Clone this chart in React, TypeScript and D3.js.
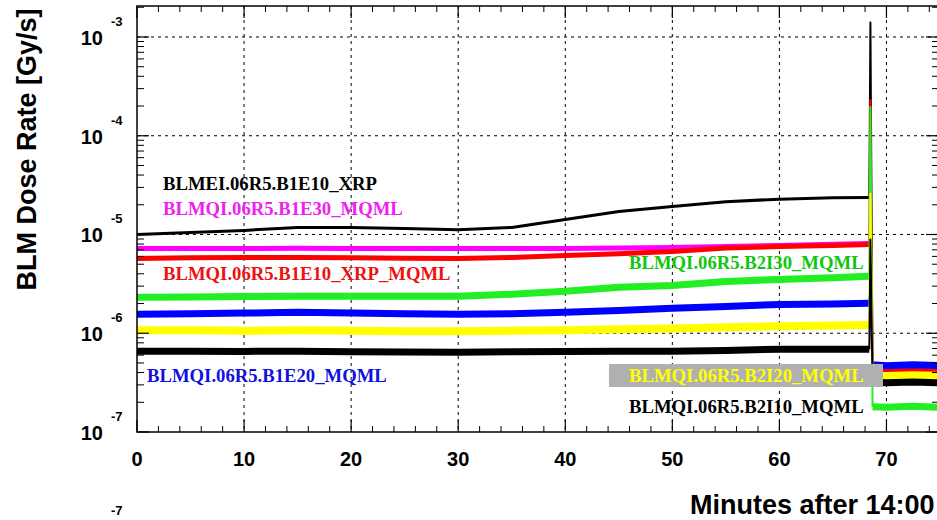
import React from 'react'
import * as d3 from 'd3'

// time axis, minutes after 14:00
const minutes = [0, 5, 10, 15, 20, 25, 30, 35, 40, 45, 50, 55, 60, 65, 68.4, 68.5, 68.7, 70, 72.5, 75]

// dose rates in Gy/s, one value per minute entry
const xrpB1E10 = [1.0e-5, 1.05e-5, 1.1e-5, 1.18e-5, 1.18e-5, 1.15e-5, 1.12e-5, 1.18e-5, 1.42e-5, 1.71e-5, 1.92e-5, 2.15e-5, 2.28e-5, 2.35e-5, 2.37e-5, 1.4e-3, 3.9e-7, 3.8e-7, 3.9e-7, 3.8e-7]
const mqmlB1E30 = [7.22e-6, 7.22e-6, 7.22e-6, 7.25e-6, 7.22e-6, 7.2e-6, 7.2e-6, 7.22e-6, 7.22e-6, 7.3e-6, 7.39e-6, 7.55e-6, 7.75e-6, 7.95e-6, 8.11e-6, 8.5e-6, 4.5e-7, 4.4e-7, 4.5e-7, 4.4e-7]
const xrpMqmlB1E10 = [5.73e-6, 5.8e-6, 5.86e-6, 5.86e-6, 5.8e-6, 5.75e-6, 5.73e-6, 5.86e-6, 6.14e-6, 6.4e-6, 6.73e-6, 7.3e-6, 7.56e-6, 7.75e-6, 7.92e-6, 2.3e-4, 4.2e-7, 4.1e-7, 4.2e-7, 4.1e-7]
const mqmlB1E20 = [1.56e-6, 1.58e-6, 1.6e-6, 1.63e-6, 1.6e-6, 1.58e-6, 1.56e-6, 1.58e-6, 1.63e-6, 1.7e-6, 1.79e-6, 1.87e-6, 1.96e-6, 1.98e-6, 2.01e-6, 2.8e-6, 4.8e-7, 4.7e-7, 4.8e-7, 4.7e-7]
const mqmlB2I30 = [2.31e-6, 2.33e-6, 2.35e-6, 2.37e-6, 2.37e-6, 2.37e-6, 2.37e-6, 2.48e-6, 2.66e-6, 2.92e-6, 3.05e-6, 3.35e-6, 3.51e-6, 3.65e-6, 3.77e-6, 1.95e-4, 1.8e-7, 1.78e-7, 1.82e-7, 1.78e-7]
const mqmlB2I20 = [1.07e-6, 1.07e-6, 1.06e-6, 1.07e-6, 1.06e-6, 1.05e-6, 1.05e-6, 1.06e-6, 1.07e-6, 1.1e-6, 1.12e-6, 1.15e-6, 1.18e-6, 1.2e-6, 1.21e-6, 2.6e-5, 3.7e-7, 3.7e-7, 3.75e-7, 3.7e-7]
const mqmlB2I10 = [6.58e-7, 6.58e-7, 6.55e-7, 6.58e-7, 6.5e-7, 6.45e-7, 6.43e-7, 6.5e-7, 6.55e-7, 6.58e-7, 6.58e-7, 6.7e-7, 6.89e-7, 6.89e-7, 6.89e-7, 8.9e-6, 3.2e-7, 3.15e-7, 3.2e-7, 3.15e-7]

const xTicks = [0, 10, 20, 30, 40, 50, 60, 70]
const decades = [-7, -6, -5, -4, -3]

interface Series {
    name: string
    values: number[]
    color: string
    labelColor: string
    width: number
}

const series: Series[] = [
    { name: 'BLMEI.06R5.B1E10_XRP', values: xrpB1E10, color: '#000000', labelColor: '#000000', width: 3 },
    { name: 'BLMQI.06R5.B1E30_MQML', values: mqmlB1E30, color: '#ff00ff', labelColor: '#ee22ee', width: 5 },
    { name: 'BLMQI.06R5.B1E10_XRP_MQML', values: xrpMqmlB1E10, color: '#ff0000', labelColor: '#ee1111', width: 5 },
    { name: 'BLMQI.06R5.B1E20_MQML', values: mqmlB1E20, color: '#0000ff', labelColor: '#1111dd', width: 7 },
    { name: 'BLMQI.06R5.B2I30_MQML', values: mqmlB2I30, color: '#22ee22', labelColor: '#11c611', width: 7 },
    { name: 'BLMQI.06R5.B2I20_MQML', values: mqmlB2I20, color: '#ffff00', labelColor: '#ffff00', width: 8 },
    { name: 'BLMQI.06R5.B2I10_MQML', values: mqmlB2I10, color: '#000000', labelColor: '#000000', width: 7 },
]

const W = 937
const H = 520
const left = 137
const right = 940
const top = 6
const bottom = 432

const App = () => {
    const x = d3.scaleLinear().domain([0, 75]).range([left, right])
    const y = d3.scaleLog().domain([1e-7, 2.06e-3]).range([bottom, top])

    const line = d3.line<[number, number]>()
        .x(d => x(d[0]))
        .y(d => y(d[1]))

    // split each trace: flat part, spike, post-dump part
    const segs = (vals: number[]) => {
        const pts: [number, number][] = minutes.map((m, i) => [m, vals[i]])
        return {
            pre: pts.slice(0, 15),
            spike: pts.slice(14, 17),
            post: pts.slice(16),
        }
    }

    const minorY: number[] = []
    for (let e = -7; e < -2; e++) {
        for (let k = 2; k <= 9; k++) {
            const v = k * Math.pow(10, e)
            if (v < 2.06e-3) minorY.push(v)
        }
    }
    const minorX = d3.range(0, 76, 2).filter(v => v % 10 !== 0)

    const helv = 'Liberation Sans, Arial, Helvetica, sans-serif'
    const times = 'Liberation Serif, Times New Roman, serif'

    const labelStyle = { fontFamily: times, fontWeight: 700, fontSize: 18.7 }

    return (
        <svg width={W} height={H} style={{ position: 'absolute', left: 0, top: 0, background: '#fff' }}>
            <rect x={0} y={0} width={W} height={H} fill="#fff" />

            {/* grid */}
            {decades.filter(e => e > -7).map(e => (
                <line key={`gy${e}`} x1={left} x2={right} y1={y(Math.pow(10, e))} y2={y(Math.pow(10, e))}
                      stroke="#000" strokeWidth={1} strokeDasharray="3,4" />
            ))}
            {xTicks.filter(t => t > 0).map(t => (
                <line key={`gx${t}`} x1={x(t)} x2={x(t)} y1={top} y2={bottom}
                      stroke="#000" strokeWidth={1} strokeDasharray="3,4" />
            ))}

            {/* traces */}
            {series.map(s => {
                const p = segs(s.values)
                return (
                    <g key={s.name} fill="none" stroke={s.color} strokeLinejoin="round">
                        <path d={line(p.pre) || ''} strokeWidth={s.width} />
                        <path d={line(p.spike) || ''} strokeWidth={2} />
                        <path d={line(p.post) || ''} strokeWidth={s.width} />
                    </g>
                )
            })}

            {/* labels */}
            <text x={163} y={190} fill={series[0].labelColor} style={labelStyle}>{series[0].name}</text>
            <text x={163} y={215} fill={series[1].labelColor} style={labelStyle}>{series[1].name}</text>
            <text x={163} y={280} fill={series[2].labelColor} style={labelStyle}>{series[2].name}</text>
            <text x={147} y={382} fill={series[3].labelColor} style={labelStyle}>{series[3].name}</text>
            <text x={629} y={269} fill={series[4].labelColor} style={labelStyle}>{series[4].name}</text>
            <rect x={609} y={364} width={274} height={23} fill="#b0b0b0" />
            <text x={629} y={382} fill={series[5].labelColor} style={labelStyle}>{series[5].name}</text>
            <text x={629} y={413} fill={series[6].labelColor} style={labelStyle}>{series[6].name}</text>

            {/* frame */}
            <rect x={left} y={top} width={right - left} height={bottom - top} fill="none" stroke="#000" strokeWidth={1.5} />

            {/* y ticks, left and right */}
            {decades.map(e => {
                const yy = y(Math.pow(10, e))
                return (
                    <g key={`yt${e}`} stroke="#000" strokeWidth={1.2}>
                        <line x1={left} x2={left + 12} y1={yy} y2={yy} />
                        <line x1={right} x2={right - 14} y1={yy} y2={yy} />
                    </g>
                )
            })}
            {minorY.map((v, i) => (
                <g key={`ym${i}`} stroke="#000" strokeWidth={1}>
                    <line x1={left} x2={left + 7} y1={y(v)} y2={y(v)} />
                    <line x1={right} x2={right - 8} y1={y(v)} y2={y(v)} />
                </g>
            ))}

            {/* x ticks, bottom and top */}
            {xTicks.map(t => (
                <g key={`xt${t}`} stroke="#000" strokeWidth={1.2}>
                    <line x1={x(t)} x2={x(t)} y1={bottom} y2={bottom - 12} />
                    <line x1={x(t)} x2={x(t)} y1={top} y2={top + 12} />
                </g>
            ))}
            {minorX.map(t => (
                <g key={`xm${t}`} stroke="#000" strokeWidth={1}>
                    <line x1={x(t)} x2={x(t)} y1={bottom} y2={bottom - 6} />
                    <line x1={x(t)} x2={x(t)} y1={top} y2={top + 6} />
                </g>
            ))}

            {/* tick labels */}
            {decades.map(e => {
                const yy = y(Math.pow(10, e))
                return (
                    <g key={`yl${e}`} fontFamily={helv} fontWeight={700} fill="#000">
                        <text x={103} y={yy + 8} fontSize={20} textAnchor="end">10</text>
                        <text x={111} y={yy - 11} fontSize={13}>{e}</text>
                    </g>
                )
            })}
            {xTicks.map(t => (
                <text key={`xl${t}`} x={x(t)} y={466} fontFamily={helv} fontWeight={700} fontSize={20} textAnchor="middle">{t}</text>
            ))}

            {/* axis titles */}
            <text transform="translate(36,149.5) rotate(-90)" textAnchor="middle" fontFamily={helv} fontWeight={700} fontSize={27}>
                BLM Dose Rate [Gy/s]
            </text>
            <text x={690} y={514} fontFamily={helv} fontWeight={700} fontSize={27}>Minutes after 14:00</text>

            {/* exponent of the panel below */}
            <text x={111} y={515} fontFamily={helv} fontWeight={700} fontSize={13}>-7</text>
        </svg>
    )
}

export default App
